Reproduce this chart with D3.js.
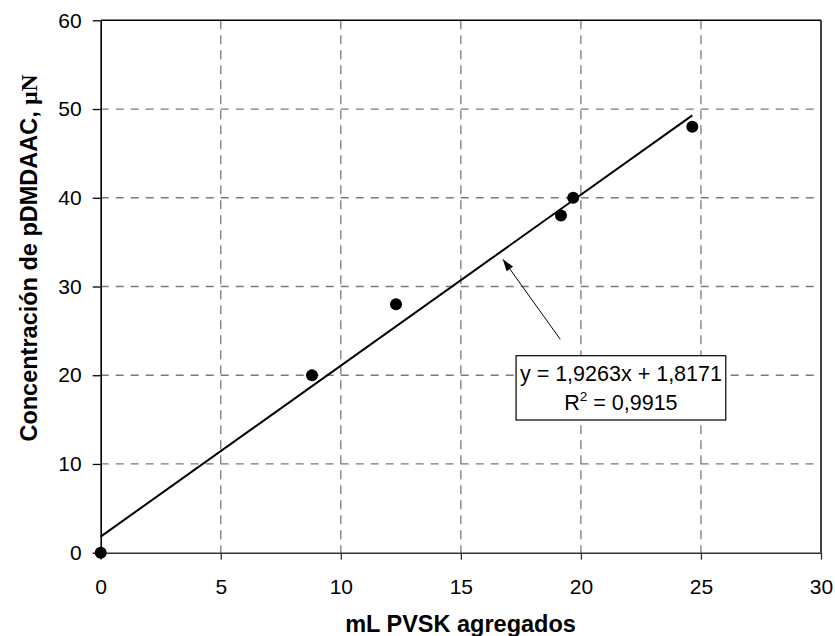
<!DOCTYPE html>
<html>
<head>
<meta charset="utf-8">
<script src="https://cdn.jsdelivr.net/npm/d3@7"></script>
<style>
  html, body { margin: 0; padding: 0; background: #fff; }
  svg { display: block; font-family: Arial, "Liberation Sans", sans-serif; }
</style>
</head>
<body>
<svg id="chart" width="835" height="636"></svg>
<script>
// ---- data ----
const xValues = [0, 8.8, 12.3, 19.17, 19.68, 24.64];
const yValues = [0, 20, 28, 38, 40, 48];
const xTicks = [0, 5, 10, 15, 20, 25, 30];
const yTicks = [0, 10, 20, 30, 40, 50, 60];
const slope = 1.9263;
const intercept = 1.8171;
const eqLabel = "y = 1,9263x + 1,8171";
const r2Value = "0,9915";
const xTitle = "mL PVSK agregados";
const yTitleMain = "Concentración de pDMDAAC, ";
const yTitleUnit = "μN";

(function () {
// ---- layout ----
const svg = d3.select("#chart");
const pL = 100.7, pR = 821, pT = 20.3, pB = 552.7;
const x = d3.scaleLinear().domain([0, 30]).range([pL, pR]);
const y = d3.scaleLinear().domain([0, 60]).range([pB, pT]);

// gridlines
const grid = svg.append("g");
grid.selectAll("line.gx").data(xTicks.filter(d => d > 0 && d < 30)).join("line")
  .attr("x1", d => x(d)).attr("x2", d => x(d))
  .attr("y1", pT).attr("y2", pB)
  .attr("stroke", "#7a7a7a").attr("stroke-width", 1.3).attr("stroke-dasharray", "9,6");
grid.selectAll("line.gy").data(yTicks.filter(d => d > 0 && d < 60)).join("line")
  .attr("x1", pL).attr("x2", pR)
  .attr("y1", d => y(d)).attr("y2", d => y(d))
  .attr("stroke", "#7a7a7a").attr("stroke-width", 1.3).attr("stroke-dasharray", "8,7");

// frame (top and right)
svg.append("line").attr("x1", pL).attr("x2", pR).attr("y1", pT).attr("y2", pT)
  .attr("stroke", "#000").attr("stroke-width", 1.5);
svg.append("line").attr("x1", pR).attr("x2", pR).attr("y1", pT).attr("y2", pB)
  .attr("stroke", "#000").attr("stroke-width", 1.5);

// axes
const xAxis = svg.append("g").attr("transform", `translate(0,${pB})`)
  .call(d3.axisBottom(x).tickValues(xTicks).tickSize(7).tickSizeOuter(0).tickPadding(19).tickFormat(d3.format("d")));
xAxis.select(".domain").attr("stroke", "#333").attr("stroke-width", 1.6);
xAxis.selectAll(".tick line").attr("stroke", "#333").attr("stroke-width", 1.3);
xAxis.selectAll("text").attr("font-size", 21).attr("fill", "#000")
  .attr("font-family", "Arial, 'Liberation Sans', sans-serif");

const yAxis = svg.append("g").attr("transform", `translate(${pL},0)`)
  .call(d3.axisLeft(y).tickValues(yTicks).tickSize(8).tickSizeOuter(0).tickPadding(11).tickFormat(d3.format("d")));
yAxis.select(".domain").attr("stroke", "#000").attr("stroke-width", 1.6);
yAxis.selectAll(".tick line").attr("stroke", "#000").attr("stroke-width", 1.3);
yAxis.selectAll("text").attr("font-size", 21).attr("fill", "#000")
  .attr("font-family", "Arial, 'Liberation Sans', sans-serif");

// regression line
const xMax = d3.max(xValues);
svg.append("line")
  .attr("x1", x(0)).attr("y1", y(intercept))
  .attr("x2", x(xMax)).attr("y2", y(slope * xMax + intercept))
  .attr("stroke", "#000").attr("stroke-width", 2);

// points
svg.append("g").selectAll("circle").data(xValues.map((v, i) => [v, yValues[i]])).join("circle")
  .attr("cx", d => x(d[0])).attr("cy", d => y(d[1])).attr("r", 6).attr("fill", "#000");

// arrow annotation
const defs = svg.append("defs");
defs.append("marker").attr("id", "arrow").attr("viewBox", "0 0 12 8")
  .attr("refX", 12).attr("refY", 4).attr("markerWidth", 12).attr("markerHeight", 8)
  .attr("markerUnits", "userSpaceOnUse").attr("orient", "auto")
  .append("path").attr("d", "M0,0 L12,4 L0,8 Z").attr("fill", "#000");
const arrowFrom = [19.14, 24.05], arrowTo = [16.75, 33.07];
svg.append("line")
  .attr("x1", x(arrowFrom[0])).attr("y1", y(arrowFrom[1]))
  .attr("x2", x(arrowTo[0])).attr("y2", y(arrowTo[1]))
  .attr("stroke", "#000").attr("stroke-width", 1).attr("marker-end", "url(#arrow)");

// equation box
const bx = x(17.3), by = y(22.2), bw = 209.7, bh = 64.3;
svg.append("rect").attr("x", bx).attr("y", by).attr("width", bw).attr("height", bh)
  .attr("fill", "#fff").attr("stroke", "#000").attr("stroke-width", 1.2);
svg.append("text").attr("x", bx + bw / 2).attr("y", by + 25).attr("text-anchor", "middle")
  .attr("font-size", 21.5).text(eqLabel);
const r2 = svg.append("text").attr("x", bx + bw / 2).attr("y", by + 54.5).attr("text-anchor", "middle")
  .attr("font-size", 21.5);
r2.append("tspan").text("R");
r2.append("tspan").attr("font-size", 13.5).attr("dy", -9).text("2");
r2.append("tspan").attr("dy", 9).text(" = " + r2Value);

// axis titles
svg.append("text").attr("x", 460.5).attr("y", 632).attr("text-anchor", "middle")
  .attr("font-size", 23.5).attr("font-weight", "bold").text(xTitle);
const yt = svg.append("text").attr("transform", "translate(37,258) rotate(-90)")
  .attr("text-anchor", "middle").attr("font-size", 23.5).attr("font-weight", "bold");
yt.append("tspan").text(yTitleMain);
yt.append("tspan").attr("font-family", "'Liberation Serif', 'Times New Roman', serif").text(yTitleUnit);
})();
</script>
</body>
</html>
